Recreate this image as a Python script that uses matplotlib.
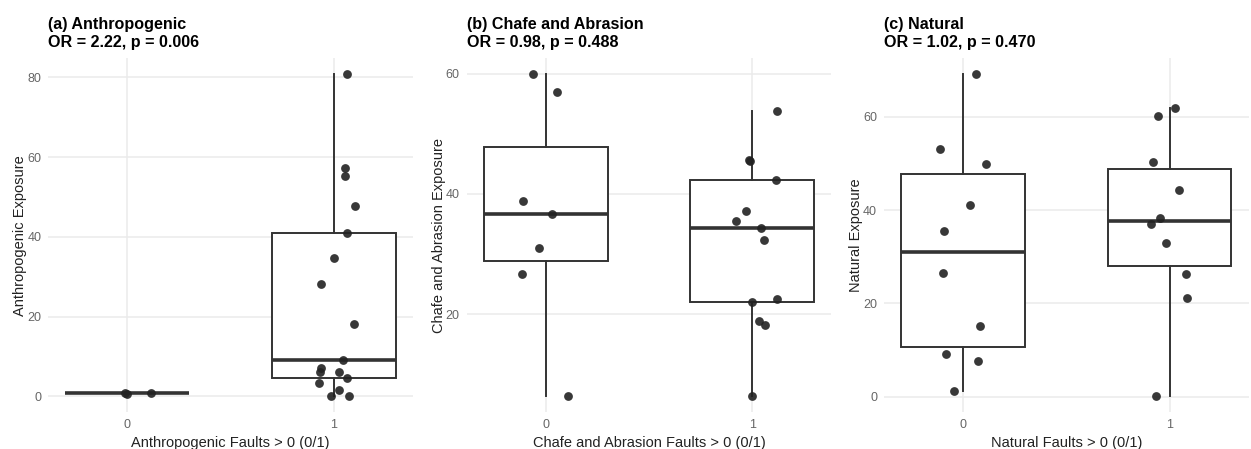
import numpy as np
import matplotlib.pyplot as plt

plt.rcParams['font.family'] = ['Liberation Sans', 'DejaVu Sans']

# values, group 0 and group 1 for each fault type
anthro_0 = [0.7, 0.8, 0.9]
anthro_1 = [80.8, 57.3, 55.2, 47.7, 41.0, 34.7, 28.1, 18.2, 9.0, 7.0, 6.2,
            6.2, 4.5, 3.4, 1.7, 0.0, 0.0]
chafe_0 = [59.9, 56.9, 38.8, 36.7, 31.0, 26.7, 6.4]
chafe_1 = [53.7, 45.7, 45.4, 42.4, 37.1, 35.5, 34.4, 32.4, 22.0, 22.5, 18.9,
           18.2, 6.4]
natural_0 = [69.1, 53.1, 49.9, 41.1, 35.6, 26.6, 15.2, 9.2, 7.7, 1.3]
natural_1 = [61.9, 60.2, 50.2, 44.3, 38.3, 37.1, 33.0, 26.3, 21.1, 0.1]

# horizontal jitter of each point, as seen in the picture
anthro_0_jit = [0.0, -0.01, 0.115]
anthro_1_jit = [0.065, 0.055, 0.055, 0.102, 0.065, 0.003, -0.061, 0.097,
                0.045, -0.061, -0.068, 0.027, 0.063, -0.073, 0.027, -0.016,
                0.073]
chafe_0_jit = [-0.060, 0.053, -0.113, 0.032, -0.032, -0.116, 0.106]
chafe_1_jit = [0.118, -0.016, -0.011, 0.115, -0.032, -0.081, 0.040, 0.058,
               -0.003, 0.118, 0.032, 0.061, -0.003]
natural_0_jit = [0.061, -0.110, 0.110, 0.032, -0.090, -0.095, 0.082, -0.082,
                 0.074, -0.045]
natural_1_jit = [0.026, -0.058, -0.081, 0.048, -0.045, -0.090, -0.016, 0.081,
                 0.084, -0.066]

names = ["Anthropogenic", "Chafe and Abrasion", "Natural"]
letters = ["a", "b", "c"]
stats = ["OR = 2.22, p = 0.006", "OR = 0.98, p = 0.488", "OR = 1.02, p = 0.470"]
yticks = [[0, 20, 40, 60, 80], [20, 40, 60], [0, 20, 40, 60]]

groups = [(anthro_0, anthro_1), (chafe_0, chafe_1), (natural_0, natural_1)]
jitters = [(anthro_0_jit, anthro_1_jit), (chafe_0_jit, chafe_1_jit),
           (natural_0_jit, natural_1_jit)]

fig = plt.figure(figsize=(12.51, 4.49), dpi=100)
lefts = [0.0386, 0.3731, 0.7066]
line_col = "#333333"
grid_col = "#EBEBEB"

for i in range(3):
    ax = fig.add_axes([lefts[i], 0.0813, 0.2915, 0.7895])
    g0, g1 = groups[i]
    j0, j1 = jitters[i]

    ax.boxplot([g0, g1], positions=[0, 1], widths=0.6, whis=1.5,
               showfliers=False, showcaps=False, patch_artist=True,
               boxprops=dict(facecolor="white", edgecolor=line_col, linewidth=1.4),
               whiskerprops=dict(color=line_col, linewidth=1.4),
               medianprops=dict(color=line_col, linewidth=2.6),
               zorder=2)

    ax.scatter(np.array(j0), g0, s=40, color="#222222", alpha=0.9,
               linewidths=0, zorder=3)
    ax.scatter(1 + np.array(j1), g1, s=40, color="#222222", alpha=0.9,
               linewidths=0, zorder=3)

    allv = g0 + g1
    lo, hi = min(allv), max(allv)
    pad = (hi - lo) * 0.05
    ax.set_ylim(lo - pad, hi + pad)
    ax.set_xlim(-0.383, 1.383)

    ax.set_xticks([0, 1])
    ax.set_xticklabels(["0", "1"])
    ax.set_yticks(yticks[i])
    ax.tick_params(length=0, labelsize=9, labelcolor="#666666", pad=5)
    ax.grid(True, color=grid_col, linewidth=1.1)
    ax.set_axisbelow(True)
    for s in ax.spines.values():
        s.set_visible(False)

    ax.set_xlabel(names[i] + " Faults > 0 (0/1)", fontsize=10.5,
                  color="#222222", labelpad=3)
    ax.set_ylabel(names[i] + " Exposure", fontsize=10.5, color="#222222",
                  labelpad=0)
    ax.set_title("(" + letters[i] + ") " + names[i] + "\n" + stats[i],
                 loc="left", fontsize=11.6, fontweight="bold", pad=8,
                 linespacing=1.25)

fig.savefig("out.png", dpi=100, facecolor="white")
